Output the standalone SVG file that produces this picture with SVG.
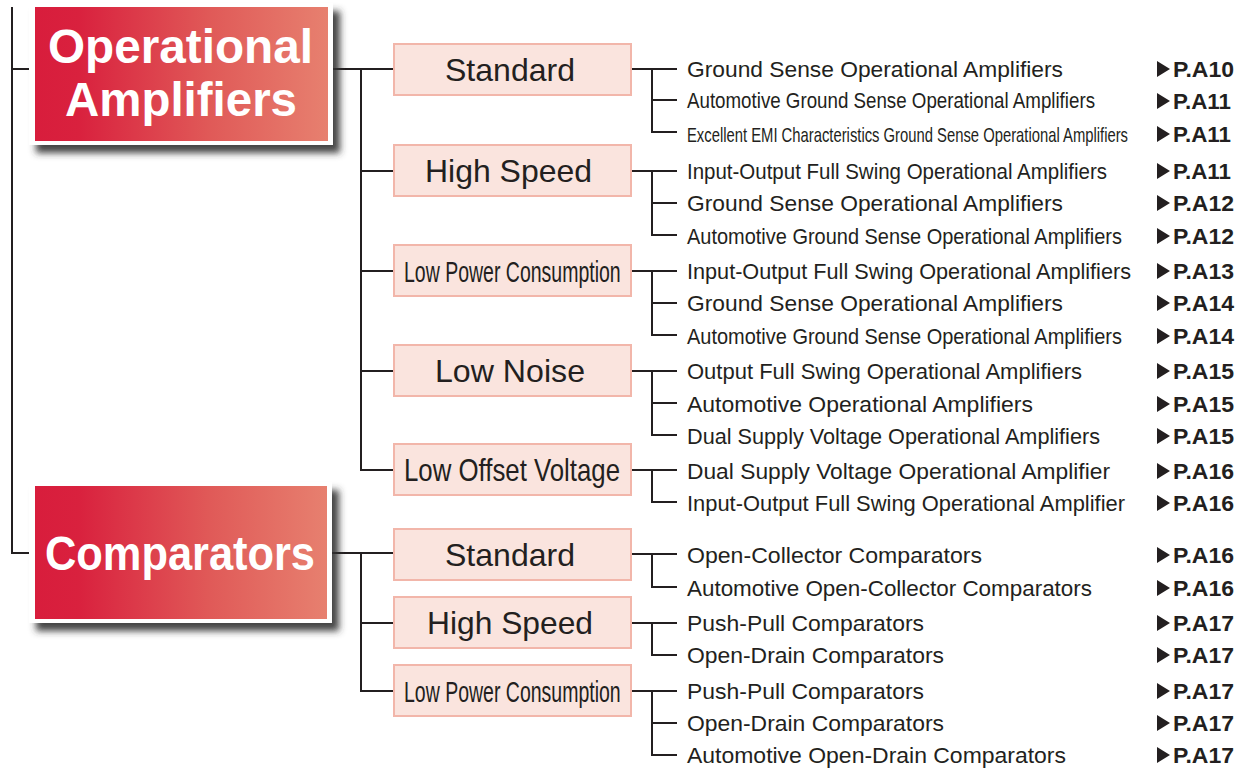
<svg xmlns="http://www.w3.org/2000/svg" width="1247" height="776" viewBox="0 0 1247 776">
<defs>
<linearGradient id="red" x1="0" y1="0" x2="1" y2="0">
<stop offset="0" stop-color="#d81d3c"/>
<stop offset="0.15" stop-color="#d9213e"/>
<stop offset="0.6" stop-color="#e05a58"/>
<stop offset="1" stop-color="#e7806f"/>
</linearGradient>
<filter id="shadow" x="-10%" y="-10%" width="130%" height="140%">
<feDropShadow dx="7" dy="8" stdDeviation="3.5" flood-color="#333333" flood-opacity="0.9"/>
</filter>
<polygon id="tri" points="0,-8 13,0 0,8"/>
</defs>
<style>
.main{font-family:"Liberation Sans",Arial,sans-serif;font-weight:bold;font-size:48px;fill:#ffffff}
.sub rect{fill:#fae4de;stroke:#f2b6aa;stroke-width:2}
.sub text{font-family:"Liberation Sans",Arial,sans-serif;font-size:32px;fill:#231f20}
.item{font-family:"Liberation Sans",Arial,sans-serif;font-size:22px;fill:#231f20}
.ref{font-family:"Liberation Sans",Arial,sans-serif;font-weight:bold;font-size:22px;fill:#231f20}
.tri{fill:#231f20}
#connectors path{fill:none;stroke:#231f20;stroke-width:2}
</style>
<rect width="1247" height="776" fill="#ffffff"/>

<g id="connectors">
<path d="M12,7 V553 H32"/>
<path d="M12,69 H32"/>
<path d="M333,69 H393 M361,69 V470 H393 M361,171 H393 M361,271 H393 M361,371 H393"/>
<path d="M332,553 H393 M361,553 V691 H393 M361,623 H393"/>
<path d="M632,69 H677 M652,69 V132 H677 M652,100 H677"/>
<path d="M632,171 H677 M652,171 V235 H677 M652,203 H677"/>
<path d="M632,271 H677 M652,271 V335 H677 M652,303 H677"/>
<path d="M632,371 H677 M652,371 V435 H677 M652,403 H677"/>
<path d="M632,470 H677 M652,470 V502 H677"/>
<path d="M632,554 H677 M652,554 V587 H677"/>
<path d="M632,623 H677 M652,623 V655 H677"/>
<path d="M632,691 H677 M652,691 V755 H677 M652,723 H677"/>
</g>

<g id="node-opamp">
<rect x="29" y="3" width="304" height="142" fill="#ffffff" filter="url(#shadow)"/>
<rect x="35" y="7" width="293" height="134" fill="url(#red)"/>
<text class="main" x="48" y="63" textLength="265" lengthAdjust="spacingAndGlyphs">Operational</text>
<text class="main" x="65" y="116" textLength="232" lengthAdjust="spacingAndGlyphs">Amplifiers</text>
</g>

<g id="node-comparators">
<rect x="29" y="482" width="303" height="141" fill="#ffffff" filter="url(#shadow)"/>
<rect x="35" y="486" width="292" height="133" fill="url(#red)"/>
<text class="main" x="45" y="570" textLength="270" lengthAdjust="spacingAndGlyphs">Comparators</text>
</g>

<g id="node-oa-standard" class="sub"><rect x="394" y="44" width="237" height="51"/><text x="445" y="81" textLength="130" lengthAdjust="spacingAndGlyphs">Standard</text></g>
<g id="node-oa-highspeed" class="sub"><rect x="394" y="145" width="237" height="51"/><text x="425" y="182" textLength="167" lengthAdjust="spacingAndGlyphs">High Speed</text></g>
<g id="node-oa-lowpower" class="sub"><rect x="394" y="245" width="237" height="51"/><text transform="translate(404,282) scale(0.63,1)" x="0" y="0" style="font-size:30px" textLength="344" lengthAdjust="spacingAndGlyphs">Low Power Consumption</text></g>
<g id="node-oa-lownoise" class="sub"><rect x="394" y="345" width="237" height="51"/><text x="435" y="382" textLength="150" lengthAdjust="spacingAndGlyphs">Low Noise</text></g>
<g id="node-oa-lowoffset" class="sub"><rect x="394" y="444" width="237" height="51"/><text transform="translate(404,481) scale(0.78,1)" x="0" y="0" style="font-size:31px" textLength="277" lengthAdjust="spacingAndGlyphs">Low Offset Voltage</text></g>
<g id="node-c-standard" class="sub"><rect x="394" y="529" width="237" height="51"/><text x="445" y="566" textLength="130" lengthAdjust="spacingAndGlyphs">Standard</text></g>
<g id="node-c-highspeed" class="sub"><rect x="394" y="597" width="237" height="51"/><text x="427" y="634" textLength="166" lengthAdjust="spacingAndGlyphs">High Speed</text></g>
<g id="node-c-lowpower" class="sub"><rect x="394" y="665" width="237" height="51"/><text transform="translate(404,702) scale(0.63,1)" x="0" y="0" style="font-size:30px" textLength="344" lengthAdjust="spacingAndGlyphs">Low Power Consumption</text></g>

<g id="items">
<g id="item-1"><text class="item" x="687" y="77" textLength="376" lengthAdjust="spacingAndGlyphs">Ground Sense Operational Amplifiers</text><use href="#tri" class="tri" x="1157" y="69"/><text class="ref" x="1173" y="77" textLength="61" lengthAdjust="spacingAndGlyphs">P.A10</text></g>
<g id="item-2"><text class="item" transform="translate(687,108) scale(0.85,1)" x="0" y="0" textLength="480" lengthAdjust="spacingAndGlyphs">Automotive Ground Sense Operational Amplifiers</text><use href="#tri" class="tri" x="1157" y="101"/><text class="ref" x="1173" y="109" textLength="58" lengthAdjust="spacingAndGlyphs">P.A11</text></g>
<g id="item-3"><text class="item" transform="translate(687,142) scale(0.75,1)" x="0" y="0" style="font-size:20px" textLength="588" lengthAdjust="spacingAndGlyphs">Excellent EMI Characteristics Ground Sense Operational Amplifiers</text><use href="#tri" class="tri" x="1157" y="134"/><text class="ref" x="1173" y="142" textLength="58" lengthAdjust="spacingAndGlyphs">P.A11</text></g>
<g id="item-4"><text class="item" x="687" y="179" textLength="420" lengthAdjust="spacingAndGlyphs">Input-Output Full Swing Operational Amplifiers</text><use href="#tri" class="tri" x="1157" y="171"/><text class="ref" x="1173" y="179" textLength="58" lengthAdjust="spacingAndGlyphs">P.A11</text></g>
<g id="item-5"><text class="item" x="687" y="211" textLength="376" lengthAdjust="spacingAndGlyphs">Ground Sense Operational Amplifiers</text><use href="#tri" class="tri" x="1157" y="203"/><text class="ref" x="1173" y="211" textLength="61" lengthAdjust="spacingAndGlyphs">P.A12</text></g>
<g id="item-6"><text class="item" x="687" y="244" textLength="435" lengthAdjust="spacingAndGlyphs">Automotive Ground Sense Operational Amplifiers</text><use href="#tri" class="tri" x="1157" y="236"/><text class="ref" x="1173" y="244" textLength="61" lengthAdjust="spacingAndGlyphs">P.A12</text></g>
<g id="item-7"><text class="item" x="687" y="279" textLength="444" lengthAdjust="spacingAndGlyphs">Input-Output Full Swing Operational Amplifiers</text><use href="#tri" class="tri" x="1157" y="271"/><text class="ref" x="1173" y="279" textLength="61" lengthAdjust="spacingAndGlyphs">P.A13</text></g>
<g id="item-8"><text class="item" x="687" y="311" textLength="376" lengthAdjust="spacingAndGlyphs">Ground Sense Operational Amplifiers</text><use href="#tri" class="tri" x="1157" y="303"/><text class="ref" x="1173" y="311" textLength="61" lengthAdjust="spacingAndGlyphs">P.A14</text></g>
<g id="item-9"><text class="item" x="687" y="344" textLength="435" lengthAdjust="spacingAndGlyphs">Automotive Ground Sense Operational Amplifiers</text><use href="#tri" class="tri" x="1157" y="336"/><text class="ref" x="1173" y="344" textLength="61" lengthAdjust="spacingAndGlyphs">P.A14</text></g>
<g id="item-10"><text class="item" x="687" y="379" textLength="395" lengthAdjust="spacingAndGlyphs">Output Full Swing Operational Amplifiers</text><use href="#tri" class="tri" x="1157" y="371"/><text class="ref" x="1173" y="379" textLength="61" lengthAdjust="spacingAndGlyphs">P.A15</text></g>
<g id="item-11"><text class="item" x="687" y="412" textLength="346" lengthAdjust="spacingAndGlyphs">Automotive Operational Amplifiers</text><use href="#tri" class="tri" x="1157" y="404"/><text class="ref" x="1173" y="412" textLength="61" lengthAdjust="spacingAndGlyphs">P.A15</text></g>
<g id="item-12"><text class="item" x="687" y="444" textLength="413" lengthAdjust="spacingAndGlyphs">Dual Supply Voltage Operational Amplifiers</text><use href="#tri" class="tri" x="1157" y="436"/><text class="ref" x="1173" y="444" textLength="61" lengthAdjust="spacingAndGlyphs">P.A15</text></g>
<g id="item-13"><text class="item" x="687" y="479" textLength="423" lengthAdjust="spacingAndGlyphs">Dual Supply Voltage Operational Amplifier</text><use href="#tri" class="tri" x="1157" y="471"/><text class="ref" x="1173" y="479" textLength="61" lengthAdjust="spacingAndGlyphs">P.A16</text></g>
<g id="item-14"><text class="item" x="687" y="511" textLength="438" lengthAdjust="spacingAndGlyphs">Input-Output Full Swing Operational Amplifier</text><use href="#tri" class="tri" x="1157" y="503"/><text class="ref" x="1173" y="511" textLength="61" lengthAdjust="spacingAndGlyphs">P.A16</text></g>
<g id="item-15"><text class="item" x="687" y="563" textLength="295" lengthAdjust="spacingAndGlyphs">Open-Collector Comparators</text><use href="#tri" class="tri" x="1157" y="555"/><text class="ref" x="1173" y="563" textLength="61" lengthAdjust="spacingAndGlyphs">P.A16</text></g>
<g id="item-16"><text class="item" x="687" y="596" textLength="405" lengthAdjust="spacingAndGlyphs">Automotive Open-Collector Comparators</text><use href="#tri" class="tri" x="1157" y="588"/><text class="ref" x="1173" y="596" textLength="61" lengthAdjust="spacingAndGlyphs">P.A16</text></g>
<g id="item-17"><text class="item" x="687" y="631" textLength="237" lengthAdjust="spacingAndGlyphs">Push-Pull Comparators</text><use href="#tri" class="tri" x="1157" y="623"/><text class="ref" x="1173" y="631" textLength="61" lengthAdjust="spacingAndGlyphs">P.A17</text></g>
<g id="item-18"><text class="item" x="687" y="663" textLength="257" lengthAdjust="spacingAndGlyphs">Open-Drain Comparators</text><use href="#tri" class="tri" x="1157" y="655"/><text class="ref" x="1173" y="663" textLength="61" lengthAdjust="spacingAndGlyphs">P.A17</text></g>
<g id="item-19"><text class="item" x="687" y="699" textLength="237" lengthAdjust="spacingAndGlyphs">Push-Pull Comparators</text><use href="#tri" class="tri" x="1157" y="691"/><text class="ref" x="1173" y="699" textLength="61" lengthAdjust="spacingAndGlyphs">P.A17</text></g>
<g id="item-20"><text class="item" x="687" y="731" textLength="257" lengthAdjust="spacingAndGlyphs">Open-Drain Comparators</text><use href="#tri" class="tri" x="1157" y="723"/><text class="ref" x="1173" y="731" textLength="61" lengthAdjust="spacingAndGlyphs">P.A17</text></g>
<g id="item-21"><text class="item" x="687" y="763" textLength="379" lengthAdjust="spacingAndGlyphs">Automotive Open-Drain Comparators</text><use href="#tri" class="tri" x="1157" y="755"/><text class="ref" x="1173" y="763" textLength="61" lengthAdjust="spacingAndGlyphs">P.A17</text></g>
</g>
</svg>
